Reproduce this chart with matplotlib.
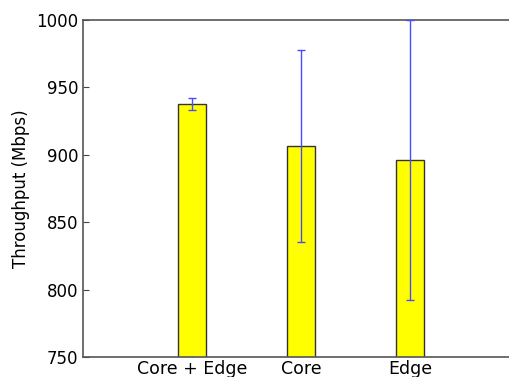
import matplotlib
matplotlib.use("Agg")
import matplotlib.pyplot as plt
import numpy as np

# ── Data ──────────────────────────────────────────────────────────────────
labels = ["Core + Edge", "Core", "Edge"]
throughput = [937.5, 906.5, 896.0]
errors = [4.5, 71.5, 104.0]

# ── Plot ──────────────────────────────────────────────────────────────────
W, H = 509, 377
fig = plt.figure(figsize=(W / 100, H / 100), dpi=100)
# axes runs slightly past the right edge of the picture (cropped original)
left, top, bottom, right = 83, 20, 357, 519
ax = fig.add_axes([left / W, 1 - bottom / H, (right - left) / W, (bottom - top) / H])

x = np.arange(len(labels))
ax.bar(x, throughput, width=0.25, color="yellow", edgecolor="#333333",
       linewidth=1.0, zorder=2)
ax.errorbar(x, throughput, yerr=errors, fmt="none", ecolor="#4a4aff",
            elinewidth=1.0, capsize=3, capthick=1.0, zorder=3)

ax.set_xlim(-1, 3)
ax.set_ylim(750, 1000)
ax.set_yticks(np.arange(750, 1001, 50))
ax.set_xticks(x)
ax.set_xticklabels(labels, fontsize=12.5)
ax.tick_params(axis="y", labelsize=12)
ax.tick_params(axis="x", pad=2)
ax.tick_params(direction="in", length=4, color="#444444")
ax.set_ylabel("Throughput (Mbps)", fontsize=12)
for s in ax.spines.values():
    s.set_color("#555555")
    s.set_linewidth(1.2)

fig.savefig("out.png", dpi=100)
